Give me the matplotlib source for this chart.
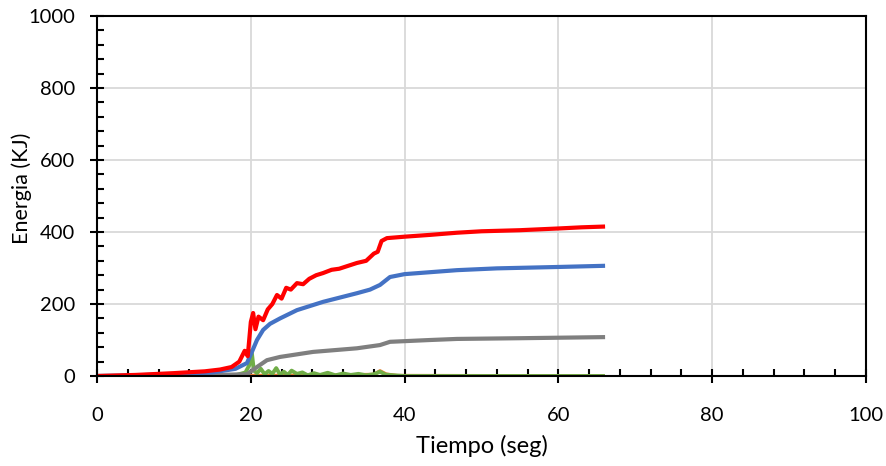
import matplotlib
matplotlib.use("Agg")
import matplotlib.pyplot as plt
from matplotlib.ticker import MultipleLocator

# ── Data ────────────────────────────────────────────────────────────────────
t_red = [0, 5, 10, 14, 16, 17.5, 18.5, 19.2, 19.6, 20.0, 20.3, 20.6, 21.0, 21.6,
         22.2, 22.8, 23.4, 24.0, 24.6, 25.2, 26.0, 26.8, 27.6, 28.5, 29.4, 30.5,
         31.5, 32.5, 33.8, 35.0, 36.0, 36.5, 37.0, 37.7, 40.0, 43.3, 46.8, 50.0,
         55.0, 60.2, 63.0, 65.8]
e_red = [0, 3, 8, 13, 18, 25, 40, 70, 55, 150, 175, 130, 165, 155,
         185, 200, 225, 215, 245, 240, 258, 255, 270, 280, 286, 295,
         298, 305, 314, 320, 340, 345, 375, 383, 387, 392, 398, 402,
         405, 410, 413, 415]

t_blue = [0, 5, 10, 15, 18, 19.5, 20.2, 20.8, 21.6, 22.5, 23.8, 26.0, 29.4,
          33.8, 35.5, 36.8, 38.1, 40.0, 46.8, 52.0, 60.2, 65.8]
e_blue = [0, 2, 5, 10, 20, 36, 70, 100, 128, 145, 160, 183, 206,
          230, 240, 253, 275, 283, 294, 299, 303, 306]

t_gray = [0, 10, 19.5, 20.8, 22.1, 23.8, 28.1, 33.8, 36.8, 38.1, 43.3, 46.8,
          55.0, 65.8]
e_gray = [0, 0, 5, 25, 44, 53, 67, 77, 86, 95, 100, 103, 105, 108]

t_green = [0, 10, 18, 19.3, 19.8, 20.1, 20.4, 20.8, 21.3, 21.8, 22.3, 22.8, 23.3,
           23.8, 24.3, 24.8, 25.3, 26.0, 26.7, 27.4, 28.2, 29.0, 30.0, 31.0,
           32.0, 33.0, 34.0, 35.0, 36.0, 36.8, 37.5, 38.5, 40.0, 50.0, 65.8]
e_green = [0, 0, 2, 10, 30, 70, 15, 8, 20, 5, 14, 6, 22,
           4, 12, 3, 15, 6, 10, 2, 8, 3, 9, 2,
           7, 3, 6, 2, 5, 12, 4, 2, 0, 0, 0]

t_orange = [0, 20, 30, 36.0, 36.8, 37.6, 39.0, 65.8]
e_orange = [0, 1, 2, 4, 14, 5, 1, 0]

XMAX, YMAX = 100, 1000


def plot_energy():
    plt.rcParams["font.family"] = ["Lato", "DejaVu Sans"]
    fig = plt.figure(figsize=(8.87, 4.66), dpi=100)
    ax = fig.add_axes([0.1094, 0.1931, 0.8669, 0.7726])

    ax.plot(t_orange, e_orange, color="#ED7D31", lw=2.6)
    ax.plot(t_green, e_green, color="#70AD47", lw=2.8)
    ax.plot(t_gray, e_gray, color="#7F7F7F", lw=3.0)
    ax.plot(t_blue, e_blue, color="#4472C4", lw=3.0)
    ax.plot(t_red, e_red, color="#FF0000", lw=3.0)

    ax.set_xlim(0, XMAX)
    ax.set_ylim(0, YMAX)
    ax.xaxis.set_major_locator(MultipleLocator(20))
    ax.xaxis.set_minor_locator(MultipleLocator(4))
    ax.yaxis.set_major_locator(MultipleLocator(200))
    ax.yaxis.set_minor_locator(MultipleLocator(40))

    ax.grid(True, which="major", color="#D9D9D9", lw=1.3)
    ax.set_axisbelow(True)
    for s in ax.spines.values():
        s.set_color("black")
        s.set_linewidth(1.5)

    ax.tick_params(which="major", direction="inout", length=10, width=1.5,
                   labelsize=14.5)
    ax.tick_params(axis="x", which="major", pad=17)
    ax.tick_params(axis="y", which="major", pad=10.5)
    ax.tick_params(which="minor", direction="in", length=5, width=1.5)

    ax.set_xlabel("Tiempo (seg)", fontsize=17, labelpad=8)
    ax.set_ylabel("Energia (KJ)", fontsize=15.5)
    ax.yaxis.set_label_coords(-0.085, 0.52)

    fig.savefig("out.png", dpi=100)
    plt.close(fig)


if __name__ == "__main__":
    plot_energy()
